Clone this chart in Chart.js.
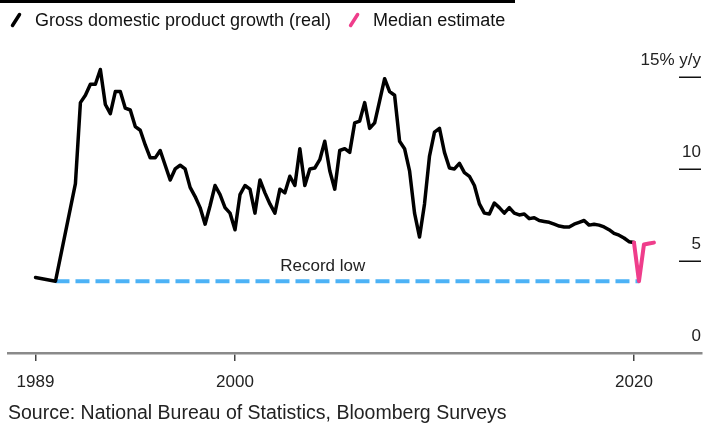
<!DOCTYPE html>
<html><head><meta charset="utf-8">
<script src="https://cdn.jsdelivr.net/npm/chart.js@4/dist/chart.umd.min.js"></script>
<style>
html,body{margin:0;padding:0;background:#fff;}
#wrap{position:relative;width:704px;height:423px;overflow:hidden;}
#topbar{position:absolute;left:0;top:0;width:515px;height:3px;background:#000;}
canvas{position:absolute;left:0;top:0;}
</style></head><body>
<div id="wrap"><canvas id="c" width="704" height="423"></canvas><div id="topbar"></div></div>
<script>
// ---------- data ----------
const annualPeriods = ['1989', '1990', '1991'];
const annualGrowth = [4.1, 3.9, 9.2];
const quarterlyStartYear = 1992; // first quarter: 1992Q1
const quarterlyGrowth = [
  13.6, 14.0, 14.6, 14.6,   15.4, 13.5, 13.0, 14.2,   14.2, 13.3, 13.2, 12.3,
  12.1, 11.3, 10.6, 10.6,   11.0, 10.2, 9.4, 10.0,    10.2, 10.0, 9.0, 8.5,
  7.9, 7.0, 8.0, 9.1,       8.6, 7.9, 7.6, 6.7,       8.6, 9.1, 8.9, 7.6,
  9.4, 8.7, 8.1, 7.6,       8.9, 8.7, 9.6, 9.1,       11.1, 9.1, 10.0, 10.05,
  10.5, 11.5, 9.9, 8.9,     11.0, 11.1, 10.9, 12.5,   12.6, 13.6, 12.2, 12.5,
  13.7, 14.9, 14.2, 14.0,   11.5, 11.1, 9.9, 7.6,     6.3, 8.1, 10.7, 12.0,
  12.2, 10.9, 10.05, 10.0,  10.3, 9.8, 9.6, 9.1,      8.1, 7.6, 7.55, 8.15,
  7.9, 7.6, 7.9, 7.6,       7.5, 7.55, 7.3, 7.35,     7.2, 7.15, 7.1, 7.0,
  6.9, 6.85, 6.85, 7.0,     7.1, 7.2, 6.95, 7.0,      6.95, 6.85, 6.7, 6.5,
  6.4, 6.25, 6.05, 6.0
];
const estimatePeriods = ['2019Q4', '2020Q1', '2020Q2', '2020Q3', '2020Q4'];
const estimateGrowth = [6.0, 3.9, 5.9, 5.95, 6.0];
const recordLowValue = 3.9;
const recordLowPeriods = ['1990', '2020Q1'];
const xTickYears = [1990, 2000, 2020];
const xTickLabels = ['1989', '2000', '2020'];
const yTickValues = [0, 5, 10, 15];
const yTickLabels = ['0', '5', '10', '15% y/y'];
const seriesNames = ['Gross domestic product growth (real)', 'Median estimate'];
const recordLowText = 'Record low';
const sourceText = 'Source: National Bureau of Statistics, Bloomberg Surveys';

// ---------- helpers ----------
// period -> decimal year at the end of the period
function periodEnd(p) {
  const m = /^(\d{4})(?:Q(\d))?$/.exec(p);
  const y = +m[1];
  return m[2] ? y + (+m[2]) / 4 : y + 1;
}
const quarterlyPeriods = quarterlyGrowth.map((_, i) =>
  (quarterlyStartYear + Math.floor(i / 4)) + 'Q' + (i % 4 + 1));
const gdpPeriods = annualPeriods.concat(quarterlyPeriods);
const gdpValues = annualGrowth.concat(quarterlyGrowth);
const toPts = (periods, vals) => periods.map((p, i) => ({ x: periodEnd(p), y: vals[i] }));

const FONT = "'Liberation Sans', Arial, Helvetica, sans-serif";
const BLACK = '#000000';
const PINK = '#EF3D8B';
const BLUE = '#4CB2F6';

const decor = {
  id: 'decor',
  afterDatasetsDraw(chart) {
    const ctx = chart.ctx;
    const y = chart.scales.y, x = chart.scales.x;
    ctx.save();
    // right-hand value axis
    ctx.font = '17px ' + FONT;
    ctx.fillStyle = '#222';
    ctx.textAlign = 'right';
    ctx.textBaseline = 'middle';
    yTickValues.forEach((v, i) => {
      const py = y.getPixelForValue(v);
      if (v !== 0) {
        ctx.strokeStyle = '#111';
        ctx.lineWidth = 1.5;
        ctx.beginPath();
        ctx.moveTo(679, Math.round(py) + 0.25);
        ctx.lineTo(701, Math.round(py) + 0.25);
        ctx.stroke();
      }
      ctx.fillText(yTickLabels[i], 701, py - 17);
    });
    // record low label
    ctx.textAlign = 'center';
    ctx.font = '17px ' + FONT;
    ctx.fillStyle = '#222';
    ctx.fillText(recordLowText, x.getPixelForValue(2004.4), y.getPixelForValue(recordLowValue) - 15);
    // legend
    ctx.font = '18px ' + FONT;
    ctx.textAlign = 'left';
    ctx.textBaseline = 'middle';
    const ly = 20;
    let cx = 16;
    [BLACK, PINK].forEach((col, i) => {
      ctx.strokeStyle = col;
      ctx.lineWidth = 3.5;
      ctx.lineCap = 'round';
      ctx.beginPath();
      ctx.moveTo(cx - 3.5, ly + 5.5);
      ctx.lineTo(cx + 3.5, ly - 5.5);
      ctx.stroke();
      ctx.fillStyle = '#111';
      const tx = cx + 19;
      ctx.fillText(seriesNames[i], tx, ly + 1);
      cx = tx + ctx.measureText(seriesNames[i]).width + 23;
    });
    ctx.restore();
  }
};

new Chart(document.getElementById('c'), {
  type: 'line',
  data: {
    datasets: [
      { label: seriesNames[1], data: toPts(estimatePeriods, estimateGrowth),
        borderColor: PINK, borderWidth: 4, pointRadius: 0, borderJoinStyle: 'round', borderCapStyle: 'round', tension: 0 },
      { label: seriesNames[0], data: toPts(gdpPeriods, gdpValues),
        borderColor: BLACK, borderWidth: 3.5, pointRadius: 0, borderJoinStyle: 'round', borderCapStyle: 'round', tension: 0 },
      { label: recordLowText, data: recordLowPeriods.map(p => ({ x: periodEnd(p), y: recordLowValue })),
        borderColor: BLUE, borderWidth: 4, borderDash: [14, 6], pointRadius: 0, tension: 0 }
    ]
  },
  options: {
    responsive: false,
    animation: false,
    devicePixelRatio: 1,
    layout: { padding: { left: 8, right: 2, top: 40, bottom: 0 } },
    plugins: {
      legend: { display: false },
      tooltip: { enabled: false },
      title: {
        display: true, position: 'bottom', align: 'start', text: sourceText,
        color: '#222', font: { family: FONT, size: 19.5, weight: 'normal', lineHeight: 1.0 },
        padding: { top: 0, bottom: 0 }
      }
    },
    scales: {
      x: {
        type: 'linear', min: 1988.62, max: 2023.41,
        afterBuildTicks: s => { s.ticks = xTickYears.map(v => ({ value: v })); },
        ticks: {
          callback: (v, i) => xTickLabels[i], color: '#222',
          font: { family: FONT, size: 17 }, padding: 11, maxRotation: 0, autoSkip: false
        },
        grid: { drawOnChartArea: false, drawTicks: true, tickLength: 8, color: '#444', lineWidth: 1.5 },
        border: { display: true, color: '#8a8a8a', width: 2.5 }
      },
      y: { display: false, min: 0, max: 17 }
    }
  },
  plugins: [decor]
});
</script>
</body></html>
